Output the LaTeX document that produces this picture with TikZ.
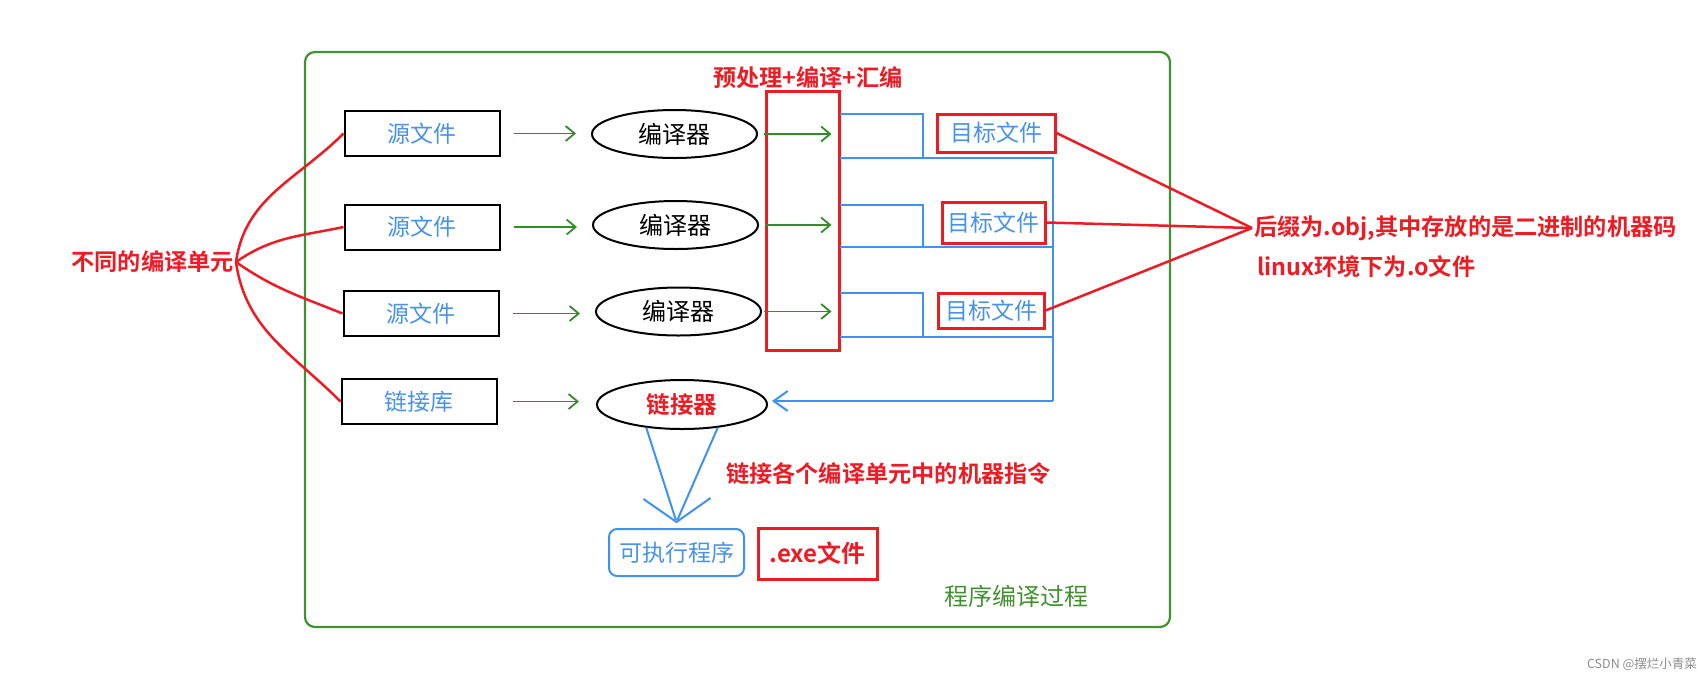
\documentclass[tikz,border=0pt]{standalone}
\usepackage{fontspec}
\usetikzlibrary{arrows.meta,positioning,shapes.geometric}
\newfontfamily\cjk{Noto Sans CJK SC}[BoldFont={Noto Sans CJK SC Bold}]
\definecolor{framegreen}{RGB}{64,145,48}
\definecolor{arrowgreen}{RGB}{52,140,40}
\definecolor{textblue}{RGB}{72,146,232}
\definecolor{lineblue}{RGB}{62,146,246}
\definecolor{markred}{RGB}{237,28,36}
\definecolor{markgray}{RGB}{140,140,140}

\begin{document}
\begin{tikzpicture}[x=1pt,y=-1pt,
  font=\cjk\fontsize{23}{27}\selectfont,
  frame/.style={draw=framegreen,line width=2.2pt,rounded corners=10pt},
  srcbox/.style={draw=black,line width=2pt,minimum width=155pt,minimum height=45pt,text=textblue},
  tool/.style={draw=black,ellipse,line width=2pt,minimum width=165pt,minimum height=48pt,inner sep=0pt,
    font=\cjk\fontsize{24}{28}\selectfont},
  slot/.style={minimum width=83pt,inner sep=0pt,outer sep=0pt},
  objbox/.style={draw=markred,line width=3pt,text=textblue,inner sep=0pt},
  note/.style={text=markred,font=\cjk\bfseries\fontsize{23.2}{27}\selectfont,inner sep=2pt},
  garr/.style={-{Straight Barb[length=9pt,width=15pt]},line width=1.8pt,draw=arrowgreen},
  barr/.style={line width=2pt,draw=lineblue},
  rline/.style={line width=2.5pt,draw=markred}
]
\useasboundingbox (0,0) rectangle (1702,689);
\node[frame,minimum width=865pt,minimum height=575pt] (box) at (737.5,339.5) {};

\node[srcbox] (src1) at (422,133.5) {源文件};
\node[srcbox] (src2) at (422,227) {源文件};
\node[srcbox] (src3) at (421,313.5) {源文件};
\node[srcbox] (lib) at (419,401.5) {链接库};

\node[tool] (cc1) at (674.5,134) {编译器};
\node[tool] (cc2) at (675.5,225) {编译器};
\node[tool] (cc3) at (678.5,311.5) {编译器};
\node[tool,minimum width=170pt,minimum height=49pt,font=\cjk\bfseries\fontsize{23.5}{27}\selectfont,text=markred] (ld) at (682,404.5) {链接器};

\node[draw=markred,line width=3pt,minimum width=73pt,minimum height=259pt] (pp) at (802.5,220.5) {};
\node[note] (ppnote) at (808,78) {预处理+编译+汇编};

\draw[garr,shorten <=13pt,shorten >=15pt] (src1.east) -- (src1.east -| cc1.west);
\draw[garr,shorten <=13pt,shorten >=15pt] (src2.east) -- (src2.east -| cc2.west);
\draw[garr,shorten <=13pt,shorten >=15pt] (src3.east) -- (src3.east -| cc3.west);
\draw[garr,shorten <=15pt,shorten >=17pt] (lib.east) -- (lib.east -| ld.west);
\draw[garr,shorten <=6pt,shorten >=9pt] (cc1.east) -- (cc1.east -| pp.east);
\draw[garr,shorten <=6pt,shorten >=9pt] (cc2.east) -- (cc2.east -| pp.east);
\draw[garr,shorten <=2pt,shorten >=9pt] (cc3.east) -- (cc3.east -| pp.east);

\node[slot,minimum height=44pt] (slot1) at (881.5,136) {};
\node[slot,minimum height=42pt] (slot2) at (881.5,226) {};
\node[slot,minimum height=44pt] (slot3) at (881.5,315) {};
\coordinate (bus) at (1053,401);
\draw[barr] (slot1.north west) -- (slot1.north east) -- (slot1.south east);
\draw[barr] (slot2.north west) -- (slot2.north east) -- (slot2.south east);
\draw[barr] (slot3.north west) -- (slot3.north east) -- (slot3.south east);
\draw[barr] (slot1.south west) -- (slot1.south west -| bus) -- (bus);
\draw[barr] (slot2.south west) -- (slot2.south west -| bus);
\draw[barr] (slot3.south west) -- (slot3.south west -| bus);
\draw[barr,-{Straight Barb[length=14pt,width=20pt]},shorten >=4pt] (bus) -- (bus -| ld.east);

\node[objbox,minimum width=118pt,minimum height=38pt] (obj1) at (996,133) {目标文件};
\node[objbox,minimum width=103pt,minimum height=41pt] (obj2) at (993.5,222.5) {目标文件};
\node[objbox,minimum width=106pt,minimum height=35pt] (obj3) at (991,310.5) {目标文件};

\node[note,anchor=west] (suffix) at (1252,228) {后缀为.obj,其中存放的是二进制的机器码};
\node[note,anchor=west] (osnote) at (1255,267) {linux环境下为.o文件};
\draw[rline] (obj1.east) -- (suffix.west);
\draw[rline] (obj2.east) -- (suffix.west);
\draw[rline] (obj3.east) -- (suffix.west);

\node[note,anchor=east] (units) at (236,262) {不同的编译单元};
\draw[rline] (units.east) to[out=82,in=225] (src1.west);
\draw[rline] (units.east) to[out=35,in=192] (src2.west);
\draw[rline] (units.east) to[out=-35,in=158] (src3.west);
\draw[rline] (units.east) to[out=-82,in=135] (lib.west);

\node[draw=lineblue,line width=2pt,rounded corners=8pt,minimum width=135pt,minimum height=47pt,text=textblue] (exe) at (676.5,552.5) {可执行程序};
\coordinate[above=6pt of exe.north] (tip);
\draw[barr,shorten >=2pt] (ld.213) -- (tip);
\draw[barr,shorten >=2pt] (ld.327) -- (tip);
\draw[barr] (tip) ++(-33,-23) -- (tip) -- ++(34,-24);
\node[note] (linknote) at (888.5,474) {链接各个编译单元中的机器指令};
\node[draw=markred,line width=3pt,minimum width=119pt,minimum height=51pt,text=markred,font=\cjk\bfseries\fontsize{24}{28}\selectfont] (exefile) at (817.5,553.5) {.exe文件};

\node[text=framegreen,font=\cjk\fontsize{24}{28}\selectfont] (title) at (1016.5,596) {程序编译过程};
\node[text=markgray,font=\cjk\fontsize{12.5}{15}\selectfont] (mark) at (1642,664) {CSDN @摆烂小青菜};
\end{tikzpicture}
\end{document}
